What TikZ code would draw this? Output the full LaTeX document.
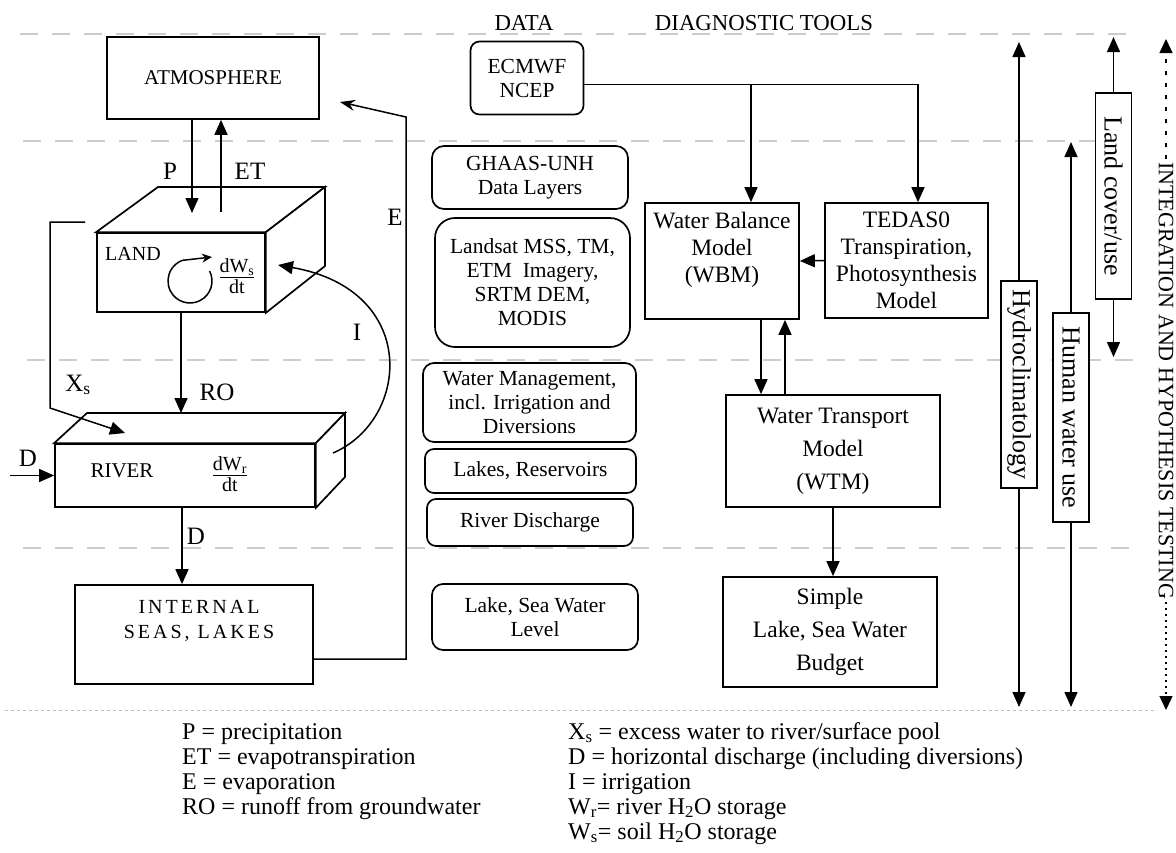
\documentclass[tikz,border=0pt]{standalone}
\usepackage{fontspec}
\setmainfont{Liberation Serif}
\usetikzlibrary{arrows.meta,calc}
\begin{document}
\begin{tikzpicture}[x=1pt,y=-1pt,
  conn/.style={line width=1.5pt},
  arr/.style={line width=1.5pt,-{Triangle[length=15pt,width=13pt]}},
  box/.style={draw, line width=1.7pt, fill=white, inner sep=0pt, align=center},
  rbox/.style={box, rounded corners=9pt},
  datafont/.style={font=\fontsize{21.5}{24}\selectfont},
  toolfont/.style={font=\fontsize{23.5}{27}\selectfont},
  bigtool/.style={font=\fontsize{23.5}{33}\selectfont},
  sepline/.style={draw=gray!40, line width=1.2pt, dash pattern=on 18pt off 14pt},
  lbl/.style={font=\fontsize{25}{28}\selectfont, inner sep=0pt},
  leg/.style={font=\fontsize{24}{25}\selectfont, anchor=base west, inner sep=0pt},
  vbox/.style={box, rotate=-90, font=\fontsize{26}{28}\selectfont, minimum height=36pt},
  face/.style={line width=1.7pt, fill=white, line join=miter},
  hdr/.style={font=\fontsize{22.8}{24}\selectfont, anchor=base, inner sep=0pt}
]
\useasboundingbox (0,0) rectangle (1176,852);

% separator lines
\draw[sepline] (20,34) -- (1140,34);
\draw[sepline] (23,141) -- (1140,141);
\draw[sepline] (27,360) -- (1140,360);
\draw[sepline] (23,548) -- (1140,548);
\draw[draw=gray!50, line width=1pt, dash pattern=on 3pt off 3pt] (5,710) -- (1155,710);

% headers
\node[hdr] (hdata) at (524,30) {DATA};
\node[hdr] (htools) at (764,30) {DIAGNOSTIC TOOLS};

% ---------------- left: water cycle ----------------
\node[box, minimum width=212pt, minimum height=82pt, font=\fontsize{21}{24}\selectfont] (atm) at (213,78) {ATMOSPHERE};

% LAND block
\node[box, minimum width=168pt, minimum height=79pt] (land) at (181,272.5) {};
\draw[face] (land.north west) -- (158,187) -- (325,187) -- (land.north east) -- cycle;
\draw[face] (land.north east) -- (325,187) -- (325,266) -- (land.south east) -- cycle;
\node[font=\fontsize{20}{22}\selectfont, inner sep=0pt] (landlbl) at (133,254) {LAND};
\coordinate (circc) at (190,281);
\coordinate (circtip) at (212,257);
\draw[conn, -{Stealth[length=10pt,width=9pt]}] ($(circc)+(-27:22)$) arc[start angle=-27, end angle=250, radius=22] -- (circtip);
\node[font=\fontsize{20}{21}\selectfont, align=center, inner sep=0pt] (dws) at (237,276) {\underline{dW\textsubscript{s}}\\dt};

% P and ET
\coordinate (pend) at (192,213);
\coordinate (etbeg) at (221,212);
\draw[arr] (atm.south -| pend) -- (pend);
\draw[arr] (etbeg) -- (atm.south -| etbeg);
\node[lbl] (plbl) at (170,171) {P};
\node[lbl] (etlbl) at (250,171) {ET};

% RIVER block
\node[box, minimum width=260pt, minimum height=63pt] (river) at (185,475.5) {};
\draw[face] (river.north west) -- (87,413) -- (345,413) -- (river.north east) -- cycle;
\draw[face] (river.north east) -- (345,413) -- (345,477) -- (river.south east) -- cycle;
\node[font=\fontsize{21}{22}\selectfont, inner sep=0pt] (riverlbl) at (122,471) {RIVER};
\node[font=\fontsize{20}{21}\selectfont, align=center, inner sep=0pt] (dwr) at (230,474) {\underline{dW\textsubscript{r}}\\dt};

% RO
\coordinate (rtop) at (181,413);
\draw[arr] (land.south) -- (rtop);
\node[lbl] (rolbl) at (217,392) {RO};

% Xs
\coordinate (xs0) at (85,222);
\coordinate (xs1) at (50,222);
\coordinate (xs2) at (50,408);
\coordinate (xs3) at (125,433);
\draw[arr] (xs0) -- (xs1) -- (xs2) -- (xs3);
\node[lbl] (xslbl) at (78,385) {X\textsubscript{s}};

% D into river
\coordinate (dl) at (10,475.5);
\draw[arr] (dl) -- (river.west);
\node[lbl] (dlbl1) at (28,458) {D};

% INTERNAL SEAS
\node[box, minimum width=238pt, minimum height=99pt] (internal) at (194,634.5) {};
\node[font=\fontsize{20}{25}\selectfont\addfontfeature{LetterSpace=15}, align=center, inner sep=0pt] (internaltxt) at (199,621) {INTERNAL\\SEAS, LAKES};

% D down
\draw[arr] ([xshift=-3pt]river.south) -- ([xshift=-3pt]river.south |- internal.north);
\node[lbl] (dlbl2) at (196,536) {D};

% Irrigation
\coordinate (ist) at (333,453);
\coordinate (iend) at (278,265);
\draw[arr] (ist) .. controls (410,420) and (420,290) .. (iend);
\node[lbl] (ilbl) at (357,332) {I};

% Evaporation
\coordinate (e2) at (406,117);
\coordinate (etip) at (340,102);
\draw[conn, -{Stealth[length=15pt,width=11pt,inset=5pt]}] ([yshift=-24.5pt]internal.east) -| (e2) -- (etip);
\node[lbl] (elbl) at (395,217) {E};

% ---------------- data column ----------------
\node[rbox, datafont, minimum width=113pt, minimum height=73pt] (ecmwf) at (527,78) {ECMWF\\NCEP};
\node[rbox, datafont, rounded corners=12pt, minimum width=196pt, minimum height=63pt] (ghaas) at (530,177.5) {GHAAS-UNH\\Data Layers};
\node[rbox, datafont, rounded corners=20pt, minimum width=195pt, minimum height=129pt] (landsat) at (532.5,282.5) {Landsat MSS, TM,\\ETM~ Imagery,\\SRTM DEM,\\MODIS};
\node[rbox, datafont, rounded corners=11pt, minimum width=213pt, minimum height=79pt] (wm) at (529.5,402.5) {Water Management,\\incl. Irrigation and\\Diversions};
\node[rbox, datafont, minimum width=211pt, minimum height=44pt] (lakes) at (530.5,471) {Lakes, Reservoirs};
\node[rbox, datafont, minimum width=206pt, minimum height=47pt] (riverd) at (530,522.5) {River Discharge};
\node[rbox, datafont, rounded corners=11pt, minimum width=206pt, minimum height=66pt] (lakelevel) at (535,617) {Lake, Sea Water\\Level};

% ---------------- diagnostic tools ----------------
\node[box, minimum width=154pt, minimum height=116pt] (wbm) at (722,261) {};
\node[toolfont, align=center, inner sep=0pt] (wbmtxt) at (722,250) {Water Balance\\Model\\(WBM)};
\node[box, toolfont, minimum width=163pt, minimum height=115pt] (tedas) at (906.5,260.5) {TEDAS0\\Transpiration,\\Photosynthesis\\Model};
\node[box, bigtool, minimum width=214pt, minimum height=112pt] (wtm) at (833,451) {Water Transport\\Model\\(WTM)};
\node[box, bigtool, minimum width=214pt, minimum height=110pt] (simple) at (830,632) {Simple\\Lake, Sea Water\\Budget};

\coordinate (ecl) at ([yshift=-6.5pt]ecmwf.east);
\coordinate (wbmin) at ([xshift=29pt]wbm.north);
\draw[arr] (ecl) -| ([xshift=11.5pt]tedas.north);
\draw[arr] (ecl -| wbmin) -- (wbmin);
\draw[arr] (tedas.west) -- (wbm.east);
\draw[arr] ([xshift=39pt]wbm.south) -- ([xshift=39pt]wbm.south |- wtm.north);
\draw[arr] ([xshift=63pt]wbm.south |- wtm.north) -- ([xshift=63pt]wbm.south);
\draw[arr] (wtm.south) -- (wtm.south |- simple.north);

% ---------------- right: scales ----------------
\node[vbox, minimum width=207pt] (hydro) at (1019,384.5) {Hydroclimatology};
\coordinate (hydtop) at (1019,42);
\coordinate (hydbot) at (1019,707);
\draw[arr] (hydro.west) -- (hydtop);
\draw[arr] (hydro.east) -- (hydbot);

\node[vbox, minimum width=209pt] (human) at (1071,417.5) {Human water use};
\coordinate (humtop) at (1071,142);
\coordinate (humbot) at (1071,707);
\draw[arr] (human.west) -- (humtop);
\draw[arr] (human.east) -- (humbot);

\node[vbox, minimum width=206pt] (landuse) at (1113.5,196) {Land cover/use};
\coordinate (lutop) at (1113.5,37);
\coordinate (lubot) at (1113.5,357);
\draw[arr] (landuse.west) -- (lutop);
\draw[arr] (landuse.east) -- (lubot);

\node[rotate=-90, font=\fontsize{22}{24}\selectfont, inner sep=3pt] (integ) at (1166,380.5) {INTEGRATION AND HYPOTHESIS TESTING};
\coordinate (inttop) at (1166,39);
\coordinate (intbot) at (1166,710);
\draw[line width=1.3pt, dash pattern=on 4pt off 8pt, -{Triangle[length=14pt,width=13pt]}] (integ.west) -- (inttop);
\draw[line width=1.3pt, dash pattern=on 2pt off 4pt, -{Triangle[length=14pt,width=13pt]}] (integ.east) -- (intbot);

% ---------------- legend ----------------
\node[leg] (l1) at (182,739) {P = precipitation};
\node[leg] (l2) at (182,764) {ET = evapotranspiration};
\node[leg] (l3) at (182,789) {E = evaporation};
\node[leg] (l4) at (182,814) {RO = runoff from groundwater};
\node[leg] (r1) at (568,739) {X\textsubscript{s} = excess water to river/surface pool};
\node[leg] (r2) at (568,764) {D = horizontal discharge (including diversions)};
\node[leg] (r3) at (568,789) {I = irrigation};
\node[leg] (r4) at (568,814) {W\textsubscript{r}= river H\textsubscript{2}O storage};
\node[leg] (r5) at (568,839) {W\textsubscript{s}= soil H\textsubscript{2}O storage};
\end{tikzpicture}
\end{document}
